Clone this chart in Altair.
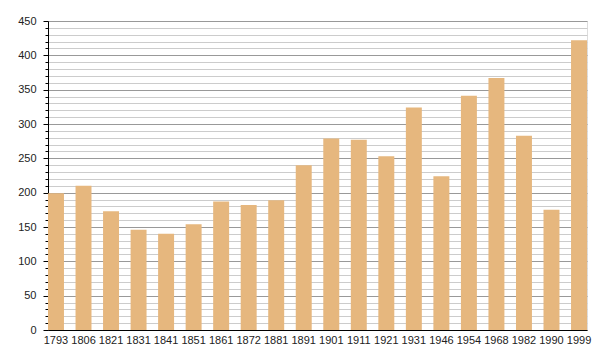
import altair as alt
import pandas as pd

years = ["1793", "1806", "1821", "1831", "1841", "1851", "1861", "1872", "1881", "1891",
         "1901", "1911", "1921", "1931", "1946", "1954", "1968", "1982", "1990", "1999"]
population = [199, 210, 173, 146, 140, 154, 187, 182, 189, 240,
              279, 277, 253, 324, 224, 341, 367, 283, 175, 422]
y_ticks = list(range(0, 451, 10))

df = pd.DataFrame({"year": years, "pop": population})

chart = alt.Chart(df).mark_bar(color="#E6B77E").encode(
    x=alt.X("year:N", sort=None, title=None,
            scale=alt.Scale(paddingInner=0.42, paddingOuter=0),
            axis=alt.Axis(labelAngle=0, tickSize=0, labelPadding=4, domainColor="#000000",
                          domainWidth=1, labelFont="Liberation Sans", labelFontSize=11,
                          labelColor="#222222")),
    y=alt.Y("pop:Q", title=None,
            scale=alt.Scale(domain=[0, 450], nice=False),
            axis=alt.Axis(values=y_ticks,
                          labelExpr="datum.value % 50 === 0 ? datum.label : ''",
                          grid=True,
                          gridColor={"condition": {"test": "datum.value % 50 === 0", "value": "#999999"}, "value": "#cccccc"},
                          tickSize={"condition": {"test": "datum.value % 50 === 0", "value": 5}, "value": 3},
                          tickColor="#000000", domainColor="#000000",
                          labelPadding=7, labelFont="Liberation Sans", labelFontSize=11,
                          labelColor="#222222")),
).properties(
    width=539, height=309,
    autosize=alt.AutoSizeParams(type="none"),
    padding={"left": 40, "top": 13, "right": 5, "bottom": 22},
).configure_view(stroke=None).configure(background="#ffffff")

chart.save("out.html", embed_options={"renderer": "svg", "actions": False})
